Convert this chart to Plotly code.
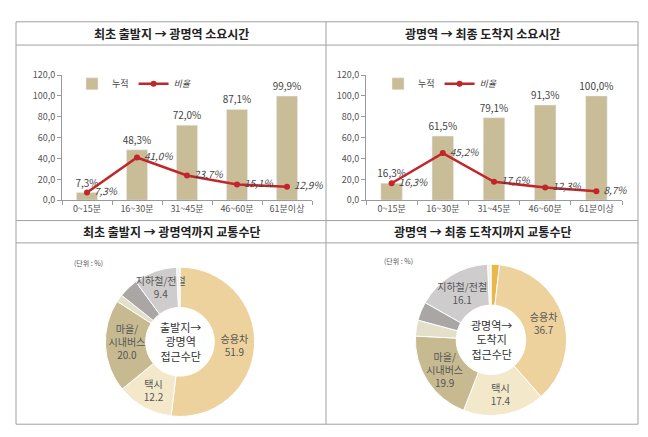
import plotly.graph_objects as go

FONT = "Noto Sans CJK KR"

# ---- data ----
time_categories = ["0~15분", "16~30분", "31~45분", "46~60분", "61분이상"]
origin_cumulative = [7.3, 48.3, 72.0, 87.1, 99.9]
origin_ratio = [7.3, 41.0, 23.7, 15.1, 12.9]
dest_cumulative = [16.3, 61.5, 79.1, 91.3, 100.0]
dest_ratio = [16.3, 45.2, 17.6, 12.3, 8.7]

origin_modes = ["승용차", "택시", "마을/<br>시내버스", "기타1", "기타2", "지하철/전철", "기타3"]
origin_shares = [51.9, 12.2, 20.0, 1.6, 4.2, 9.4, 0.7]
origin_show = [True, True, True, False, False, True, False]

dest_modes = ["기타0", "승용차", "택시", "마을/<br>시내버스", "기타1", "기타2", "지하철/전철", "기타3"]
dest_shares = [1.8, 36.7, 17.4, 19.9, 3.4, 4.0, 16.1, 0.7]
dest_show = [False, True, True, True, False, False, True, False]

titles = ["최초 출발지 → 광명역 소요시간", "광명역 → 최종 도착지 소요시간",
          "최초 출발지 → 광명역까지 교통수단", "광명역 → 최종 도착지까지 교통수단"]

BAR_COLOR = "#C9BD98"
LINE_COLOR = "#C0262A"
origin_colors = ["#EDD29E", "#F4E8CB", "#C7BA91", "#E4DFC9", "#A9A6A5", "#CFCCCD", "#F2F2F2"]
dest_colors = ["#E8B84C", "#EDD29E", "#F4E8CB", "#C7BA91", "#E4DFC9", "#A9A6A5", "#CFCCCD", "#F2F2F2"]

# page body has an 8px margin; work in screenshot pixel coordinates
OX, OY = 8, 8
W, H = 640, 429
fig = go.Figure()


def px(x):
    return (x - OX) / W


def py(y):
    return 1 - (y - OY) / H


def add_bar_line(cum, ratio, xa, ya, legend):
    fig.add_trace(go.Bar(
        x=time_categories, y=cum, name="누적", marker_color=BAR_COLOR, width=0.42,
        texttemplate="%{y:.1f}%", textposition="outside", cliponaxis=False,
        textfont=dict(size=10, color="#444", family=FONT),
        xaxis=xa, yaxis=ya, legend=legend))
    fig.add_trace(go.Scatter(
        x=time_categories, y=ratio, name="<i>비율</i>", mode="lines+markers+text",
        line=dict(color=LINE_COLOR, width=2.5), marker=dict(size=6, color=LINE_COLOR),
        texttemplate=" %{y:.1f}%", textposition="middle right", cliponaxis=False,
        textfont=dict(size=10, color="#444", family=FONT, style="italic"),
        xaxis=xa, yaxis=ya, legend=legend))


add_bar_line(origin_cumulative, origin_ratio, "x", "y", "legend")
add_bar_line(dest_cumulative, dest_ratio, "x2", "y2", "legend2")


def add_donut(labels, shares, show, colors, x0, x1, y0, y1):
    texts = [f"{l}<br>{v:.1f}" if s else "" for l, v, s in zip(labels, shares, show)]
    fig.add_trace(go.Pie(
        labels=labels, values=shares, text=texts, textinfo="text", hole=0.46,
        sort=False, direction="clockwise", rotation=0,
        marker=dict(colors=colors, line=dict(color="white", width=1)),
        textposition="inside", insidetextorientation="horizontal",
        textfont=dict(size=10, color="#555", family=FONT),
        domain=dict(x=[px(x0), px(x1)], y=[py(y1), py(y0)]),
        showlegend=False, hoverinfo="label+value"))


add_donut(origin_modes, origin_shares, origin_show, origin_colors, 103, 257, 268, 422)
add_donut(dest_modes, dest_shares, dest_show, dest_colors, 412, 570, 265, 421)

axis_common = dict(showline=True, linecolor="#9A9A9A", linewidth=1, ticks="outside",
                   tickcolor="#9A9A9A", ticklen=4, showgrid=False, zeroline=False,
                   tickfont=dict(size=9, color="#555", family=FONT))
yaxis_common = dict(axis_common, range=[0, 120], tickvals=[0, 20, 40, 60, 80, 100, 120],
                    tickformat=".1f")
xaxis_common = dict(axis_common, tickson="boundaries", fixedrange=True)

fig.update_layout(
    width=W, height=H, margin=dict(l=0, r=0, t=0, b=0),
    paper_bgcolor="white", plot_bgcolor="white",
    separators=",.", bargap=0.5,
    font=dict(family=FONT, size=10, color="#444"),
    uniformtext=dict(minsize=10, mode="show"),
    xaxis=dict(xaxis_common, domain=[px(62), px(312)], anchor="y"),
    yaxis=dict(yaxis_common, domain=[py(199), py(70)], anchor="x"),
    xaxis2=dict(xaxis_common, domain=[px(366), px(622)], anchor="y2"),
    yaxis2=dict(yaxis_common, domain=[py(199), py(70)], anchor="x2"),
    legend=dict(orientation="h", x=px(72), y=py(64), xanchor="left", yanchor="top",
                font=dict(size=9, color="#444", family=FONT), bgcolor="rgba(0,0,0,0)",
                itemwidth=30, tracegroupgap=0),
    legend2=dict(orientation="h", x=px(378), y=py(64), xanchor="left", yanchor="top",
                 font=dict(size=9, color="#444", family=FONT), bgcolor="rgba(0,0,0,0)",
                 itemwidth=30, tracegroupgap=0),
    showlegend=True,
)

# table borders
border = dict(color="#A0A0A0", width=1)
for y in [15, 39, 220, 243, 430]:
    fig.add_shape(type="line", xref="paper", yref="paper", x0=px(16), x1=px(638),
                  y0=py(y), y1=py(y), line=border)
for x in [16, 326, 638]:
    fig.add_shape(type="line", xref="paper", yref="paper", x0=px(x), x1=px(x),
                  y0=py(15), y1=py(430), line=border)

# headers
for t, cx, cy in zip(titles, [171, 482, 171, 482], [27, 27, 231, 231]):
    fig.add_annotation(text=f"<b>{t}</b>", xref="paper", yref="paper", x=px(cx), y=py(cy),
                       xanchor="center", yanchor="middle", showarrow=False,
                       font=dict(size=12, color="#222", family=FONT))

# donut centre texts and unit notes
fig.add_annotation(text="출발지→<br>광명역<br>접근수단", xref="paper", yref="paper",
                   x=px(180), y=py(345), xanchor="center", yanchor="middle", showarrow=False,
                   font=dict(size=11, color="#333", family=FONT))
fig.add_annotation(text="광명역→<br>도착지<br>접근수단", xref="paper", yref="paper",
                   x=px(491), y=py(343), xanchor="center", yanchor="middle", showarrow=False,
                   font=dict(size=11, color="#333", family=FONT))
fig.add_annotation(text="(단위 : %)", xref="paper", yref="paper", x=px(88), y=py(264),
                   xanchor="center", yanchor="middle", showarrow=False,
                   font=dict(size=7, color="#555", family=FONT))
fig.add_annotation(text="(단위 : %)", xref="paper", yref="paper", x=px(398), y=py(262),
                   xanchor="center", yanchor="middle", showarrow=False,
                   font=dict(size=7, color="#555", family=FONT))

fig.write_html("out.html")
